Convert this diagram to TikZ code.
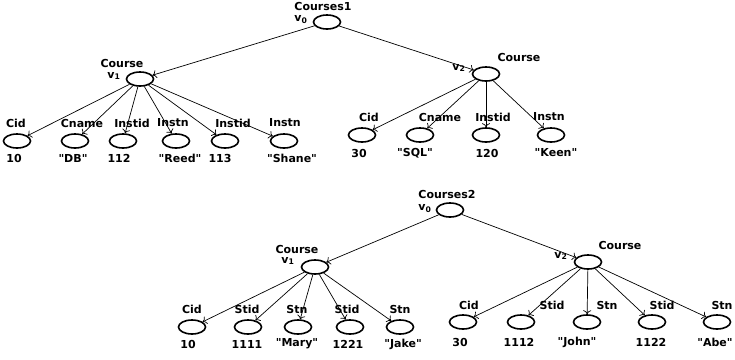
\documentclass[tikz,border=0pt]{standalone}
\usepackage{fontspec}
\setmainfont{DejaVu Sans}
\usetikzlibrary{shapes.geometric,arrows.meta}
\newcommand\qt[1]{\textquotedbl#1\textquotedbl}
\tikzset{
  obj/.style={draw, ellipse, line width=1.6pt, minimum width=27pt, minimum height=14pt, inner sep=0pt},
  lbl/.style={font=\bfseries, inner sep=0pt},
  edge/.style={-{To[length=4pt, width=8pt]}, line width=0.7pt}
}
\begin{document}
\begin{tikzpicture}[x=1pt, y=-1pt]
\fontsize{11}{13}\selectfont
\useasboundingbox (0,0) rectangle (735,359);

% first tree: Courses1
\node[obj] (r1) at (327,22) {};
\node[lbl] (r1t) at (323,6) {Courses1};
\node[lbl] (r1v) at (301,20) {v\textsubscript{0}};
\node[obj] (p1) at (140,79) {};
\node[lbl] (p1t) at (122,63) {Course};
\node[lbl] (p1v) at (114,76) {v\textsubscript{1}};
\node[obj] (p2) at (486,74) {};
\node[lbl] (p2t) at (519,57) {Course};
\node[lbl] (p2v) at (459,68) {v\textsubscript{2}};
\draw[edge] (r1) -- (p1);
\draw[edge] (r1) -- (p2);

\node[obj] (a1) at (17,141) {};
\node[lbl] (a1t) at (16,123) {Cid};
\node[lbl] (a1v) at (14,158) {10};
\node[obj] (a2) at (75,141) {};
\node[lbl] (a2t) at (82,123) {Cname};
\node[lbl] (a2v) at (73,158) {\qt{DB}};
\node[obj] (a3) at (123,141) {};
\node[lbl] (a3t) at (132,123) {Instid};
\node[lbl] (a3v) at (119,158) {112};
\node[obj] (a4) at (176,141) {};
\node[lbl] (a4t) at (173,123) {Instn};
\node[lbl] (a4v) at (180,158) {\qt{Reed}};
\node[obj] (a5) at (225,141) {};
\node[lbl] (a5t) at (233,123) {Instid};
\node[lbl] (a5v) at (220,158) {113};
\node[obj] (a6) at (284,141) {};
\node[lbl] (a6t) at (285,123) {Instn};
\node[lbl] (a6v) at (292,158) {\qt{Shane}};
\draw[edge] (p1) -- (a1);
\draw[edge] (p1) -- (a2);
\draw[edge] (p1) -- (a3);
\draw[edge] (p1) -- (a4);
\draw[edge] (p1) -- (a5);
\draw[edge] (p1) -- (a6);

\node[obj] (b1) at (362,135) {};
\node[lbl] (b1t) at (369,117) {Cid};
\node[lbl] (b1v) at (359,153) {30};
\node[obj] (b2) at (420,135) {};
\node[lbl] (b2t) at (440,117) {Cname};
\node[lbl] (b2v) at (415,153) {\qt{SQL}};
\node[obj] (b3) at (486,135) {};
\node[lbl] (b3t) at (493,117) {Instid};
\node[lbl] (b3v) at (487,153) {120};
\node[obj] (b4) at (551,135) {};
\node[lbl] (b4t) at (549,117) {Instn};
\node[lbl] (b4v) at (556,153) {\qt{Keen}};
\draw[edge] (p2) -- (b1);
\draw[edge] (p2) -- (b2);
\draw[edge] (p2) -- (b3);
\draw[edge] (p2) -- (b4);

% second tree: Courses2
\node[obj] (r2) at (450,210) {};
\node[lbl] (r2t) at (447,194) {Courses2};
\node[lbl] (r2v) at (425,209) {v\textsubscript{0}};
\node[obj] (q1) at (315,267) {};
\node[lbl] (q1t) at (297,249) {Course};
\node[lbl] (q1v) at (288,261) {v\textsubscript{1}};
\node[obj] (q2) at (588,262) {};
\node[lbl] (q2t) at (620,245) {Course};
\node[lbl] (q2v) at (561,256) {v\textsubscript{2}};
\draw[edge] (r2) -- (q1);
\draw[edge] (r2) -- (q2);

\node[obj] (c1) at (192,327) {};
\node[lbl] (c1t) at (192,309) {Cid};
\node[lbl] (c1v) at (188,344) {10};
\node[obj] (c2) at (248,327) {};
\node[lbl] (c2t) at (247,309) {Stid};
\node[lbl] (c2v) at (247,344) {1111};
\node[obj] (c3) at (298,327) {};
\node[lbl] (c3t) at (297,309) {Stn};
\node[lbl] (c3v) at (297,344) {\qt{Mary}};
\node[obj] (c4) at (350,327) {};
\node[lbl] (c4t) at (347,309) {Stid};
\node[lbl] (c4v) at (348,344) {1221};
\node[obj] (c5) at (400,327) {};
\node[lbl] (c5t) at (400,309) {Stn};
\node[lbl] (c5v) at (403,344) {\qt{Jake}};
\draw[edge] (q1) -- (c1);
\draw[edge] (q1) -- (c2);
\draw[edge] (q1) -- (c3);
\draw[edge] (q1) -- (c4);
\draw[edge] (q1) -- (c5);

\node[obj] (d1) at (463,322) {};
\node[lbl] (d1t) at (469,305) {Cid};
\node[lbl] (d1v) at (460,342) {30};
\node[obj] (d2) at (521,322) {};
\node[lbl] (d2t) at (552,305) {Stid};
\node[lbl] (d2v) at (519,342) {1112};
\node[obj] (d3) at (587,322) {};
\node[lbl] (d3t) at (607,305) {Stn};
\node[lbl] (d3v) at (577,342) {\qt{John}};
\node[obj] (d4) at (652,322) {};
\node[lbl] (d4t) at (662,305) {Stid};
\node[lbl] (d4v) at (651,342) {1122};
\node[obj] (d5) at (717,322) {};
\node[lbl] (d5t) at (722,305) {Stn};
\node[lbl] (d5v) at (715,342) {\qt{Abe}};
\draw[edge] (q2) -- (d1);
\draw[edge] (q2) -- (d2);
\draw[edge] (q2) -- (d3);
\draw[edge] (q2) -- (d4);
\draw[edge] (q2) -- (d5);
\end{tikzpicture}
\end{document}
